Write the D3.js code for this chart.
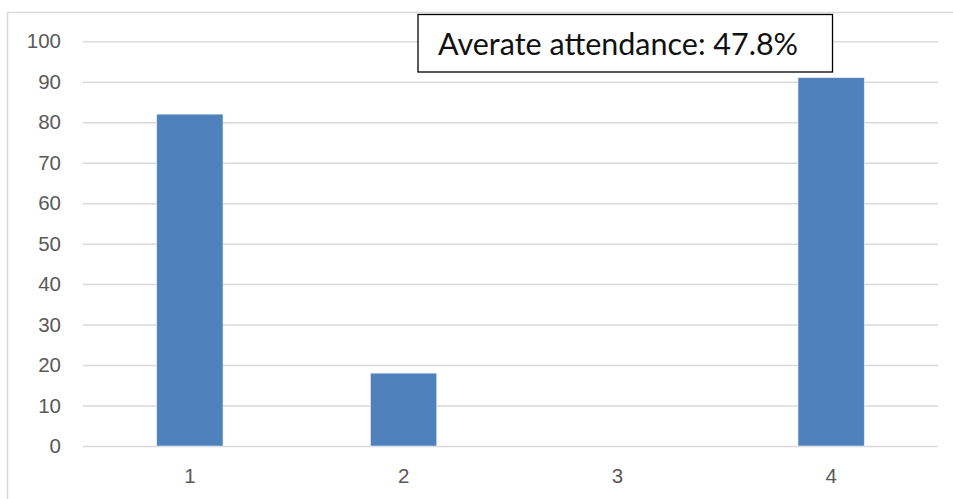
<!DOCTYPE html>
<html>
<head>
<meta charset="utf-8">
<script src="https://cdn.jsdelivr.net/npm/d3@7"></script>
<style>
  html, body { margin: 0; padding: 0; background: #ffffff; }
  svg { display: block; }
</style>
</head>
<body>
<svg id="chart" width="953" height="499"></svg>
<script>
// Attendance per session
const categories = ["1", "2", "3", "4"];
const attendance = [82, 18, 0, 91];
const yTicks = [0, 10, 20, 30, 40, 50, 60, 70, 80, 90, 100];

const width = 953, height = 499;
const plot = { left: 83, right: 938, top: 41.3, bottom: 446 };

const svg = d3.select("#chart");

// chart area frame (top and left edges visible)
svg.append("rect")
  .attr("x", 7.5).attr("y", 12.5)
  .attr("width", 960).attr("height", 520)
  .attr("fill", "#ffffff")
  .attr("stroke", "#d9d9d9")
  .attr("stroke-width", 1.5);

const x = d3.scaleBand()
  .domain(categories)
  .range([plot.left, plot.right])
  .paddingInner(0).paddingOuter(0);

const y = d3.scaleLinear()
  .domain([0, 100])
  .range([plot.bottom, plot.top]);

const barWidth = x.bandwidth() * 0.31;

// gridlines + y labels
const yAxis = d3.axisLeft(y)
  .tickValues(yTicks)
  .tickSize(-(plot.right - plot.left))
  .tickPadding(22)
  .tickFormat(d3.format("d"));

const gy = svg.append("g")
  .attr("transform", `translate(${plot.left},0)`)
  .call(yAxis);
gy.select(".domain").remove();
gy.selectAll(".tick line")
  .attr("stroke", "#d9d9d9")
  .attr("stroke-width", 1.5);
gy.selectAll(".tick text")
  .attr("fill", "#595959")
  .style("font-family", "'Liberation Sans', Arial, sans-serif")
  .style("font-size", "20.5px");

// x labels
const xAxis = d3.axisBottom(x).tickSize(0).tickPadding(22);
const gx = svg.append("g")
  .attr("transform", `translate(0,${plot.bottom})`)
  .call(xAxis);
gx.select(".domain").remove();
gx.selectAll(".tick text")
  .attr("fill", "#595959")
  .style("font-family", "'Liberation Sans', Arial, sans-serif")
  .style("font-size", "20.5px");

// bars
svg.append("g")
  .selectAll("rect")
  .data(categories.map((c, i) => ({ c, v: attendance[i] })))
  .join("rect")
  .attr("x", d => x(d.c) + x.bandwidth() / 2 - barWidth / 2)
  .attr("y", d => y(d.v))
  .attr("width", barWidth)
  .attr("height", d => y(0) - y(d.v))
  .attr("fill", "#4f81bd")
  .attr("stroke", d => d.v > 0 ? "#e6ecf5" : "none")
  .attr("stroke-width", 0.6);

// average annotation box
const avg = d3.mean(attendance);
const box = svg.append("g");
box.append("rect")
  .attr("x", 418).attr("y", 14.5)
  .attr("width", 414.5).attr("height", 57.5)
  .attr("fill", "#ffffff")
  .attr("stroke", "#000000")
  .attr("stroke-width", 1.3);
box.append("text")
  .attr("x", 438).attr("y", 54.5)
  .attr("fill", "#111111")
  .style("font-family", "Lato, 'Open Sans', sans-serif")
  .style("font-size", "30.5px")
  .text(`Averate attendance: ${avg.toFixed(1)}%`);
</script>
</body>
</html>
